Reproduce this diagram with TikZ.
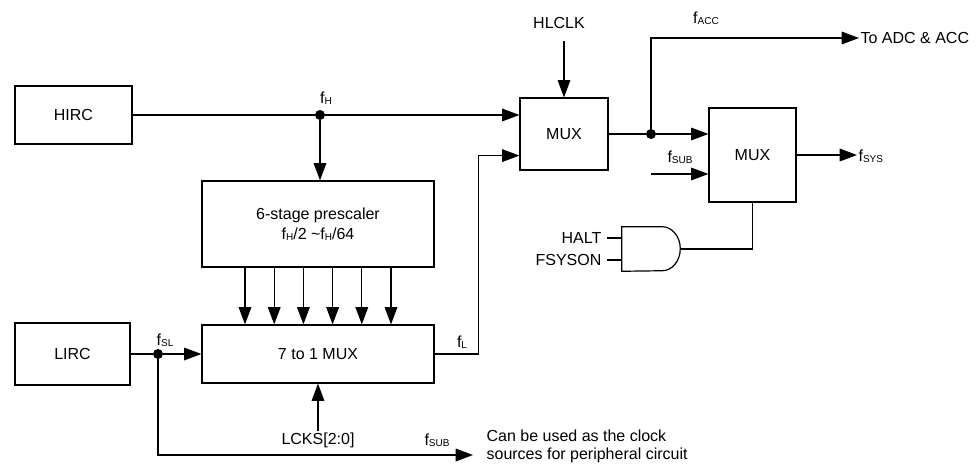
\documentclass[tikz,border=0pt]{standalone}
\usepackage{fontspec}
\setmainfont{Liberation Sans}
\usetikzlibrary{arrows.meta, calc}
\newcommand{\fsig}[1]{f\raisebox{-0.8pt}{\fontsize{7.5}{8}\selectfont #1}}

\begin{document}
\begin{tikzpicture}[
    x=0.75pt, y=-0.75pt,
    font=\fontsize{12}{14}\selectfont,
    wire/.style={line width=0.9pt},
    arrow/.style={wire, -{Triangle[length=13pt, width=9.5pt]}},
    blk/.style={draw, line width=0.9pt, inner sep=0pt},
    dot/.style={circle, fill, inner sep=0pt, minimum size=7.5pt},
    lbl/.style={inner sep=1pt}
  ]
  \useasboundingbox (0,0) rectangle (977,467);

  % clock sources
  \node[blk, minimum width=87.75pt, minimum height=43.5pt] (hirc) at (73.5,115) {HIRC};
  \node[blk, minimum width=86.25pt, minimum height=46.5pt] (lirc) at (72.5,354) {LIRC};

  % prescaler and low speed mux
  \node[blk, minimum width=174pt, minimum height=64.5pt, align=center, font=\fontsize{12}{15}\selectfont] (presc) at (318,224)
    {6-stage prescaler\\\fsig{H}/2 \textasciitilde\fsig{H}/64};
  \node[blk, minimum width=174pt, minimum height=43.5pt] (mux7) at (318,354) {7 to 1 MUX};

  % system clock muxes
  \node[blk, minimum width=66pt, minimum height=54pt] (mux1) at (564,134) {MUX};
  \node[blk, minimum width=65.25pt, minimum height=70.5pt] (mux2) at (752.5,155) {MUX};

  % junctions
  \node[dot] (fhdot) at (320,115) {};
  \node[dot] (sldot) at (158,354) {};
  \node[dot] (accdot) at (651,134) {};

  % signal names
  \node[lbl] (fh) at (326,98) {\fsig{H}};
  \node[lbl] (fsl) at (165,340) {\fsig{SL}};
  \node[lbl] (fl) at (462,342) {\fsig{L}};
  \node[lbl] (facc) at (706,18) {\fsig{ACC}};
  \node[lbl] (fsubm) at (680,157) {\fsig{SUB}};
  \node[lbl] (fsubb) at (437,440) {\fsig{SUB}};
  \node[lbl] (hlclk) at (559,23) {HLCLK};
  \node[lbl] (lcks) at (318,440) {LCKS[2:0]};
  \node[lbl, anchor=west] (toadc) at (859,38) {To ADC \& ACC};
  \node[lbl, anchor=west] (fsys) at (857,156) {\fsig{SYS}};
  \node[lbl, anchor=west, align=left, font=\fontsize{12}{13.5}\selectfont] (note) at (485,446)
    {Can be used as the clock\\sources for peripheral circuit};
  \node[lbl, anchor=east] (halt) at (603,238) {HALT};
  \node[lbl, anchor=east] (fsyson) at (603,260) {FSYSON};

  % AND gate
  \node[minimum width=43.5pt, minimum height=33pt, inner sep=0pt] (andg) at (651,249) {};
  \draw[wire] (andg.north west) -- ([xshift=-13.5pt]andg.north east)
    arc[start angle=90, end angle=-90, x radius=13.5pt, y radius=16.5pt] -- (andg.south west) -- cycle;

  % free ends
  \coordinate (hlin) at (564,41);
  \coordinate (subin) at (651,174);
  \coordinate (subout) at (473,455);

  % connections
  \draw[wire] (hirc.east) -- (fhdot);
  \draw[arrow] (fhdot) -- (fhdot -| mux1.west);
  \draw[arrow] (fhdot) -- (fhdot |- presc.north);
  \foreach \k in {-2.5,-1.5,...,2.5}
    \draw[arrow] ($(presc.south)+(\k*29.2,0)$) -- ($(mux7.north)+(\k*29.2,0)$);
  \draw[wire] (lirc.east) -- (sldot);
  \draw[arrow] (sldot) -- (mux7.west);
  \draw[arrow] (sldot) |- (subout);
  \draw[arrow] (lcks) -- (mux7.south);
  \draw[arrow] (mux7.east) -- ++(44,0) |- ($(mux1.south west)+(0,-15)$);
  \draw[arrow] (hlin) -- (mux1.north);
  \draw[wire] (mux1.east) -- (accdot);
  \draw[arrow] (accdot) -- (accdot -| mux2.west);
  \draw[arrow] (accdot) |- (toadc.west);
  \draw[arrow] (subin) -- (subin -| mux2.west);
  \draw[arrow] (mux2.east) -- (mux2.east -| fsys.west);
  \draw[wire] ([xshift=3pt]halt.east) -- (halt.east -| andg.west);
  \draw[wire] ([xshift=3pt]fsyson.east) -- (fsyson.east -| andg.west);
  \draw[wire] (andg.east) -| (mux2.south);
\end{tikzpicture}
\end{document}
